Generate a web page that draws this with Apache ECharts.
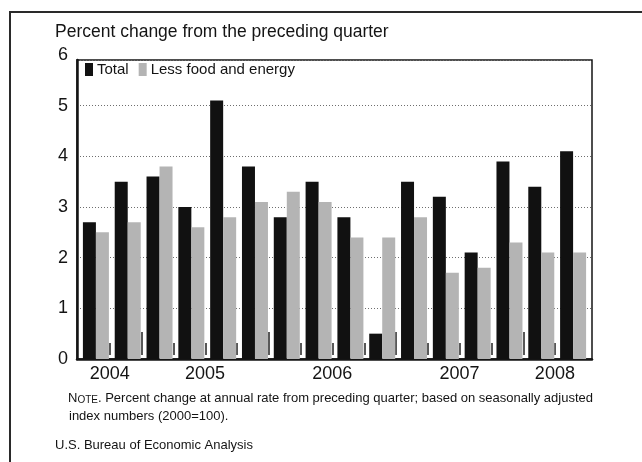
<!DOCTYPE html>
<html>
<head>
<meta charset="utf-8">
<script src="https://cdn.jsdelivr.net/npm/echarts@6/dist/echarts.min.js"></script>
<style>
  html, body { margin: 0; padding: 0; background: #ffffff; }
  #chart { width: 642px; height: 462px; }
</style>
</head>
<body>
<div id="chart"></div>
<script>
// ---- data ----
const quarters = ['2004 Q3','2004 Q4','2005 Q1','2005 Q2','2005 Q3','2005 Q4',
                  '2006 Q1','2006 Q2','2006 Q3','2006 Q4','2007 Q1','2007 Q2',
                  '2007 Q3','2007 Q4','2008 Q1','2008 Q2'];
const total          = [2.7, 3.5, 3.6, 3.0, 5.1, 3.8, 2.8, 3.5, 2.8, 0.5, 3.5, 3.2, 2.1, 3.9, 3.4, 4.1];
const lessFoodEnergy = [2.5, 2.7, 3.8, 2.6, 2.8, 3.1, 3.3, 3.1, 2.4, 2.4, 2.8, 1.7, 1.8, 2.3, 2.1, 2.1];
const yTickLabels = [0, 1, 2, 3, 4, 5, 6];
const years   = ['2004', '2005', '2006', '2007', '2008'];
const yearPos = [0.43, 3.43, 7.43, 11.43, 14.43];   // label centres, in quarter-index units

// tick marks between quarters (tall ones at year ends)
const quarterTickPos = [];
const yearTickPos = [];
for (let i = 0; i < quarters.length - 1; i++) {
  const p = i + 0.44;
  if (quarters[i + 1].endsWith('Q1')) yearTickPos.push(p); else quarterTickPos.push(p);
}

const FONT = '"Liberation Sans", Arial, Helvetica, sans-serif';
const INK = '#141414';

const chart = echarts.init(document.getElementById('chart'), null, { renderer: 'canvas' });

const xMin = -0.597, xMax = 15.597;

const option = {
  backgroundColor: '#ffffff',
  animation: false,
  textStyle: { fontFamily: FONT, color: INK },
  grid: [
    { left: 77, right: 50, top: 60, bottom: 103, show: true, borderColor: INK, borderWidth: 1.5,
      backgroundColor: 'transparent', outerBoundsMode: 'none', containLabel: false },
    { left: 80, right: 53, top: 55, bottom: 103, outerBoundsMode: 'none', containLabel: false }
  ],
  legend: {
    left: 85, top: 62, padding: 0,
    itemWidth: 8, itemHeight: 13, itemGap: 10,
    textStyle: { fontFamily: FONT, fontSize: 15, color: INK, padding: [0, 0, 0, -1] },
    data: [
      { name: 'Total', icon: 'rect' },
      { name: 'Less food and energy', icon: 'rect' }
    ]
  },
  xAxis: [
    { // box bottom axis with year labels
      type: 'value', gridIndex: 0, position: 'bottom', min: xMin, max: xMax,
      axisLine: { show: true, onZero: false, lineStyle: { color: INK, width: 2.5 } },
      axisTick: { show: false },
      splitLine: { show: false },
      axisLabel: {
        show: true, customValues: yearPos, margin: 6,
        fontFamily: FONT, fontSize: 18, color: INK,
        formatter: function (v) {
          let best = 0;
          for (let k = 1; k < yearPos.length; k++) if (Math.abs(yearPos[k] - v) < Math.abs(yearPos[best] - v)) best = k;
          return years[best];
        }
      }
    },
    { // short quarter ticks
      type: 'value', gridIndex: 0, position: 'bottom', min: xMin, max: xMax, offset: -4,
      axisLine: { show: false, onZero: false },
      axisLabel: { show: false },
      splitLine: { show: false },
      axisTick: { show: true, inside: true, length: 12, customValues: quarterTickPos,
                  lineStyle: { color: '#222', width: 1.5 } }
    },
    { // tall year ticks
      type: 'value', gridIndex: 0, position: 'bottom', min: xMin, max: xMax, offset: -4,
      axisLine: { show: false, onZero: false },
      axisLabel: { show: false },
      splitLine: { show: false },
      axisTick: { show: true, inside: true, length: 23, customValues: yearTickPos,
                  lineStyle: { color: '#222', width: 1.5 } }
    },
    { // bar category axis
      type: 'category', gridIndex: 1, position: 'bottom', data: quarters,
      axisLine: { show: false }, axisTick: { show: false }, axisLabel: { show: false },
      splitLine: { show: false }
    }
  ],
  yAxis: [
    {
      type: 'value', gridIndex: 0, position: 'left', min: 0, max: 5.9, interval: 1,
      axisLine: { show: true, onZero: false, lineStyle: { color: INK, width: 2.5 } },
      axisTick: { show: false },
      axisLabel: { show: false },
      splitLine: { show: true, lineStyle: { color: '#6e6e6e', width: 1, type: [1, 2] } }
    },
    {
      type: 'value', gridIndex: 1, position: 'left', min: 0, max: 6, interval: 1,
      axisLine: { show: false }, axisTick: { show: false },
      splitLine: { show: false },
      axisLabel: {
        show: true, margin: 12, fontFamily: FONT, fontSize: 18, color: INK,
        formatter: function (v) { return yTickLabels.indexOf(v) >= 0 ? String(v) : ''; }
      }
    }
  ],
  series: [
    {
      name: 'Total', type: 'bar', xAxisIndex: 3, yAxisIndex: 1,
      data: total, barWidth: 13, barGap: '0%',
      itemStyle: { color: '#111111' }
    },
    {
      name: 'Less food and energy', type: 'bar', xAxisIndex: 3, yAxisIndex: 1,
      data: lessFoodEnergy, barWidth: 13, barGap: '0%',
      itemStyle: { color: '#b4b4b4' }
    }
  ],
  graphic: [
    { type: 'line', shape: { x1: 9, y1: 12, x2: 642, y2: 12 }, style: { stroke: '#2a2a2a', lineWidth: 2 } },
    { type: 'line', shape: { x1: 10, y1: 11, x2: 10, y2: 462 }, style: { stroke: '#2a2a2a', lineWidth: 2 } },
    { type: 'text', left: 55, top: 23,
      style: { text: 'Percent change from the preceding quarter', fontFamily: FONT, fontSize: 17.5, fill: INK } },
    { type: 'text', left: 68, top: 392,
      style: {
        text: '{n|N}{s|OTE}{r|. Percent change at annual rate from preceding quarter; based on seasonally adjusted}',
        fill: INK,
        rich: {
          n: { fontFamily: FONT, fontSize: 13, fill: INK },
          s: { fontFamily: FONT, fontSize: 10, fill: INK, verticalAlign: 'bottom' },
          r: { fontFamily: FONT, fontSize: 13, fill: INK }
        }
      } },
    { type: 'text', left: 69, top: 410,
      style: { text: 'index numbers (2000=100).', fontFamily: FONT, fontSize: 13, fill: INK } },
    { type: 'text', left: 55, top: 439,
      style: { text: 'U.S. Bureau of Economic Analysis', fontFamily: FONT, fontSize: 13, fill: INK } }
  ]
};

chart.setOption(option);
</script>
</body>
</html>
